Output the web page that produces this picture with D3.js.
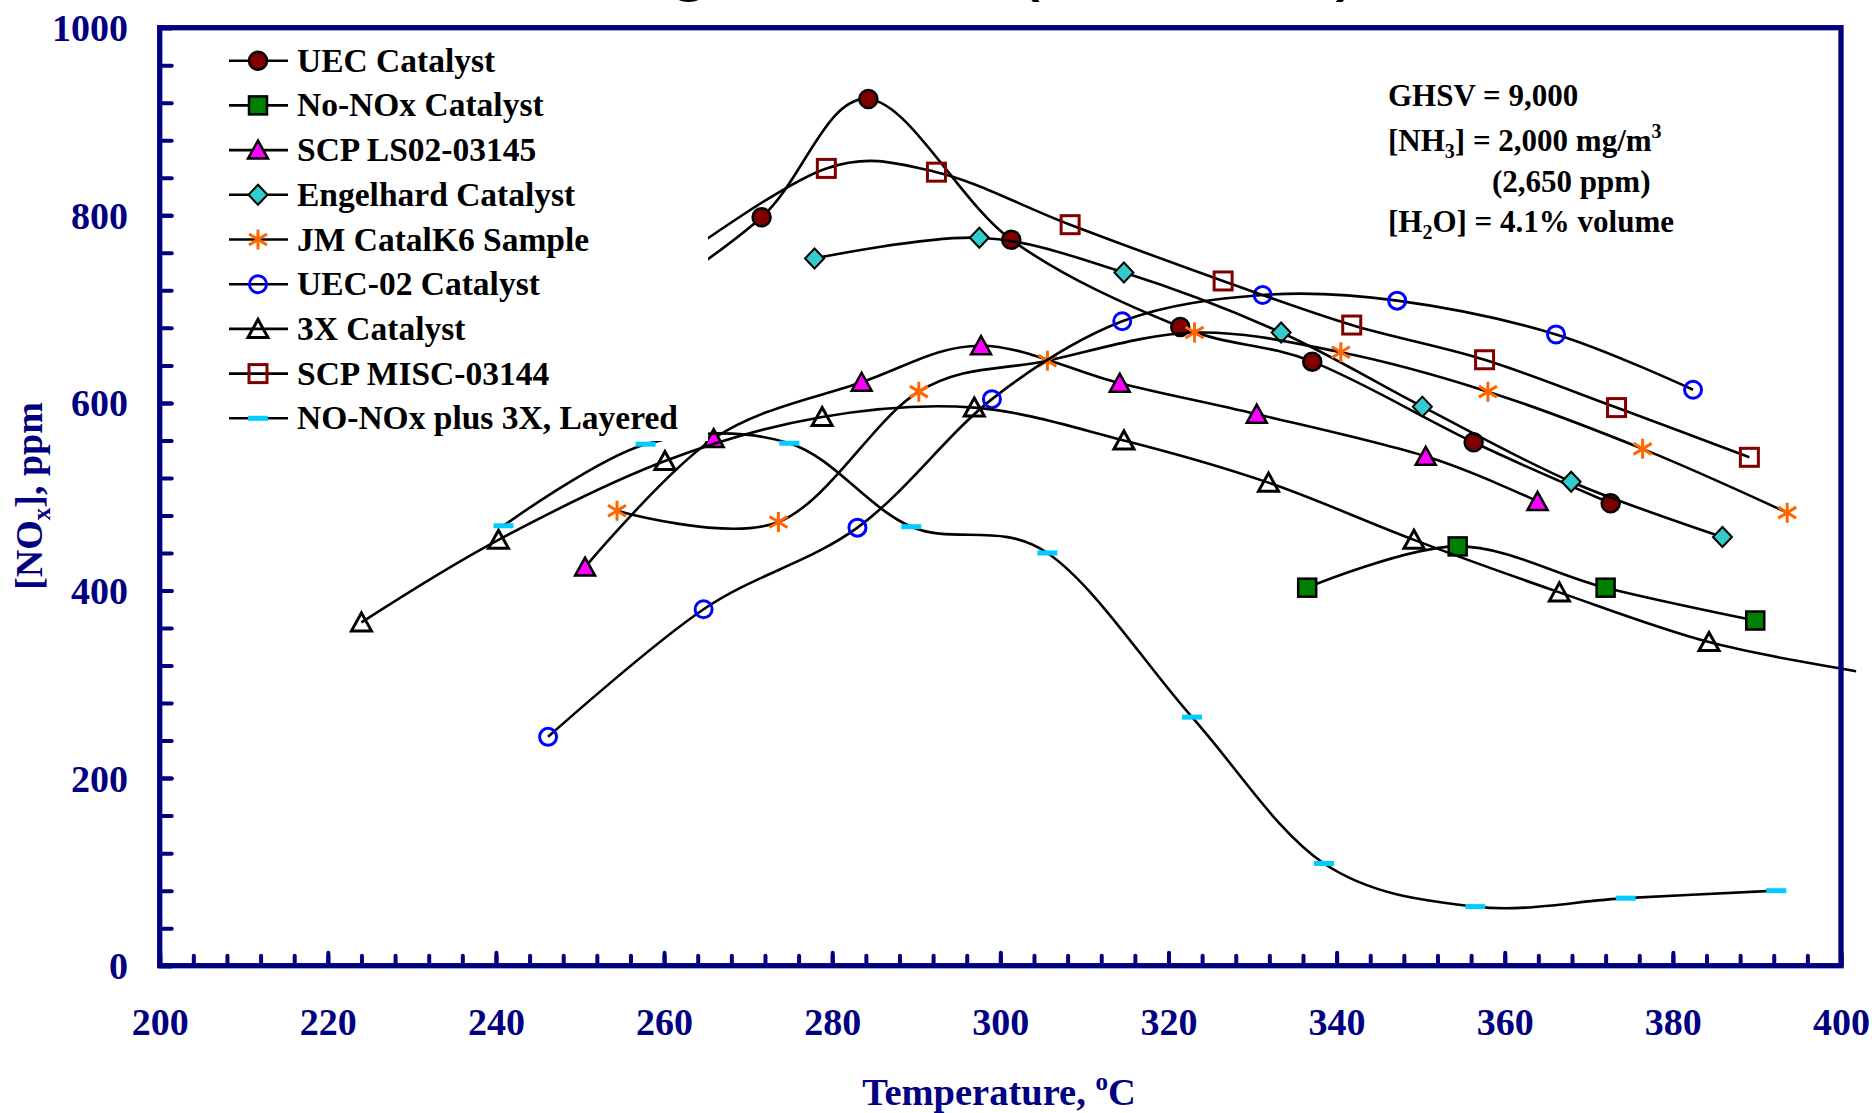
<!DOCTYPE html>
<html>
<head>
<meta charset="utf-8">
<script src="https://cdn.jsdelivr.net/npm/d3@7"></script>
<style>
body { margin: 0; background: #fff; }
svg { display: block; }
.lbl { font-family: "Liberation Serif", "Times New Roman", serif; font-weight: bold; }
</style>
</head>
<body>
<script>
// [temperature degC, NOx ppm]
var uecCatalyst   = [[255,690],[271.6,798],[284.3,924],[301.3,774],[321.4,681],[337.1,644],[356.3,558],[372.6,493]];
var noNoxCatalyst = [[336.5,403],[354.4,447],[372,403],[389.8,368]];
var scpLS02       = [[250.6,425],[265.9,562],[283.5,622],[297.7,661],[314.2,621],[330.5,588],[350.6,543],[363.9,495]];
var engelhard     = [[277.9,754],[297.5,776],[314.7,739],[333.4,675],[350.2,596],[367.9,516],[385.9,457]];
var jmCatalK6     = [[254.4,485],[273.6,473],[290.3,612],[305.6,645],[323.1,675],[340.5,654],[358,612],[376.4,551],[393.6,483]];
var uec02         = [[246.2,244],[264.7,380],[283,467],[299,604],[314.5,687],[331.2,715],[347.2,709],[366.1,673],[382.4,614]];
var threeX        = [[224,366],[240.3,454],[260.1,538],[278.8,585],[296.9,595],[314.7,560],[331.9,515],[349.2,454],[366.5,398],[384.3,345],[401.8,314]];
var scpMISC       = [[262,755],[279.3,850],[292.4,846],[308.3,790],[326.5,730],[341.8,683],[357.6,646],[373.3,595],[389.1,542]];
var noNoxLayered  = [[240.9,469],[257.8,556],[274.9,557],[289.4,468],[305.6,440],[322.8,265],[338.5,109],[356.5,63],[374.4,72],[392.3,80]];

var seriesNames = ["UEC Catalyst","No-NOx Catalyst","SCP LS02-03145","Engelhard Catalyst","JM CatalK6 Sample",
                   "UEC-02 Catalyst","3X Catalyst","SCP MISC-03144","NO-NOx plus 3X, Layered"];
var seriesData = [uecCatalyst, noNoxCatalyst, scpLS02, engelhard, jmCatalK6, uec02, threeX, scpMISC, noNoxLayered];
var seriesMarker = ["circle","square","triangle","diamond","star","ocircle","otriangle","osquare","dash"];

var xTicks = [200,220,240,260,280,300,320,340,360,380,400];
var yTicks = [0,200,400,600,800,1000];

var navy = "#000080";
var margin = {top: 27.7, right: 31, bottom: 147.3, left: 159.7},
    width = 1872 - margin.left - margin.right,
    height = 1113 - margin.top - margin.bottom;

var x = d3.scaleLinear().domain([200, 400]).range([0, width]);
var y = d3.scaleLinear().domain([0, 1000]).range([height, 0]);

var root = d3.select("body").append("svg")
    .attr("width", 1872)
    .attr("height", 1113);

// slide title, almost entirely above the top edge
root.append("text")
    .attr("x", 182)
    .attr("y", -14.5)
    .style("font-family", "'Liberation Sans', Arial, sans-serif")
    .style("font-size", "78px")
    .attr("fill", "#000")
    .text("NOx Screening Results (Round 2)");

var svg = root.append("g")
    .attr("transform", "translate(" + margin.left + "," + margin.top + ")");

function marker(g, type) {
    if (type == "circle") {
        g.append("circle").attr("r", 9).attr("fill", "#800000").attr("stroke", "#000").attr("stroke-width", 2.5);
    } else if (type == "square") {
        g.append("rect").attr("x", -9).attr("y", -9).attr("width", 18).attr("height", 18)
            .attr("fill", "#008000").attr("stroke", "#000").attr("stroke-width", 2.5);
    } else if (type == "triangle") {
        g.append("path").attr("d", "M0,-9.5L10,8.5L-10,8.5Z")
            .attr("fill", "#ff00ff").attr("stroke", "#000").attr("stroke-width", 2.5);
    } else if (type == "diamond") {
        g.append("path").attr("d", "M0,-10L9.5,0L0,10L-9.5,0Z")
            .attr("fill", "#33cccc").attr("stroke", "#000").attr("stroke-width", 2);
    } else if (type == "star") {
        g.append("path").attr("d", "M0,-10V10M-9,-5.5L9,5.5M-9,5.5L9,-5.5")
            .attr("fill", "none").attr("stroke", "#ff6600").attr("stroke-width", 3);
    } else if (type == "ocircle") {
        g.append("circle").attr("r", 8.5).attr("fill", "none").attr("stroke", "#0000ff").attr("stroke-width", 3);
    } else if (type == "otriangle") {
        g.append("path").attr("d", "M0,-9.5L10,8.5L-10,8.5Z")
            .attr("fill", "none").attr("stroke", "#000").attr("stroke-width", 3);
    } else if (type == "osquare") {
        g.append("rect").attr("x", -9).attr("y", -9).attr("width", 18).attr("height", 18)
            .attr("fill", "none").attr("stroke", "#800000").attr("stroke-width", 3);
    } else if (type == "dash") {
        g.append("rect").attr("x", -10).attr("y", -2.5).attr("width", 20).attr("height", 5)
            .attr("fill", "#00ccff");
    }
}

var line = d3.line()
    .x(function(d) { return x(d[0]); })
    .y(function(d) { return y(d[1]); })
    .curve(d3.curveCardinal.tension(0));

seriesData.forEach(function(data, i) {
    var g = svg.append("g").attr("class", "series");
    g.append("path")
        .datum(data)
        .attr("d", line)
        .attr("fill", "none")
        .attr("stroke", "#000")
        .attr("stroke-width", 2.6);
    g.selectAll(".mk")
        .data(data.filter(function(d) { return d[0] <= 400; }))
        .enter().append("g")
        .attr("class", "mk")
        .attr("transform", function(d) { return "translate(" + x(d[0]) + "," + y(d[1]) + ")"; })
        .each(function() { marker(d3.select(this), seriesMarker[i]); });
});

// legend sits on a white box over the plot
var legend = svg.append("g").attr("transform", "translate(" + (-margin.left) + "," + (-margin.top) + ")");
legend.append("rect")
    .attr("x", 215).attr("y", 33)
    .attr("width", 708 - 215).attr("height", 441 - 33)
    .attr("fill", "#fff");

seriesNames.forEach(function(name, i) {
    var cy = 60.7 + i * 44.7;
    legend.append("line")
        .attr("x1", 229).attr("x2", 288).attr("y1", cy).attr("y2", cy)
        .attr("stroke", "#000").attr("stroke-width", 2.6);
    marker(legend.append("g").attr("transform", "translate(258," + cy + ")"), seriesMarker[i]);
    legend.append("text")
        .attr("class", "lbl")
        .attr("x", 297)
        .attr("y", cy + 11)
        .style("font-size", "33.5px")
        .attr("fill", "#000")
        .text(name);
});

// axes
svg.append("g")
    .attr("class", "x minor")
    .attr("transform", "translate(0," + height + ")")
    .call(d3.axisBottom(x).tickValues(d3.range(200, 401, 4)).tickSize(-10).tickFormat(function() { return null; }));

svg.append("g")
    .attr("class", "x axis")
    .attr("transform", "translate(0," + height + ")")
    .call(d3.axisBottom(x).tickValues(xTicks).tickSize(-13).tickPadding(42).tickFormat(d3.format("d")));

svg.append("g")
    .attr("class", "y axis")
    .call(d3.axisLeft(y).tickValues(d3.range(0, 1001, 40)).tickSize(-12).tickFormat(function() { return null; }));

svg.append("g")
    .attr("class", "y axis")
    .call(d3.axisLeft(y).tickValues(yTicks).tickSize(-12).tickPadding(31.7).tickFormat(d3.format("d")));

svg.selectAll(".domain").remove();
svg.selectAll(".tick line")
    .attr("stroke", navy)
    .attr("stroke-width", 4)
    .attr("stroke-linecap", "round");
svg.selectAll(".tick text")
    .attr("class", "lbl")
    .attr("fill", navy)
    .style("font-size", "38px");
svg.selectAll(".y.axis .tick text").attr("dy", "0.34em");

svg.append("rect")
    .attr("width", width)
    .attr("height", height)
    .attr("fill", "none")
    .attr("stroke", navy)
    .attr("stroke-width", 5.3);

// axis titles
var yt = root.append("text")
    .attr("class", "lbl")
    .attr("transform", "translate(42,496) rotate(-90)")
    .attr("text-anchor", "middle")
    .attr("fill", navy)
    .style("font-size", "38px");
yt.append("tspan").text("[NO");
yt.append("tspan").attr("dy", 8).style("font-size", "25px").text("x");
yt.append("tspan").attr("dy", -8).text("], ppm");

var xt = root.append("text")
    .attr("class", "lbl")
    .attr("x", 999)
    .attr("y", 1105)
    .attr("text-anchor", "middle")
    .attr("fill", navy)
    .style("font-size", "38.5px");
xt.append("tspan").text("Temperature, ");
xt.append("tspan").attr("dy", -15).style("font-size", "25px").text("o");
xt.append("tspan").attr("dy", 15).text("C");

// test conditions
var notes = root.append("g").attr("class", "lbl").style("font-size", "31px").attr("fill", "#000");
notes.append("text").attr("x", 1388).attr("y", 106).text("GHSV = 9,000");
var n2 = notes.append("text").attr("x", 1388).attr("y", 151);
n2.append("tspan").text("[NH");
n2.append("tspan").attr("dy", 7).style("font-size", "20px").text("3");
n2.append("tspan").attr("dy", -7).text("] = 2,000 mg/m");
n2.append("tspan").attr("dy", -13).style("font-size", "20px").text("3");
notes.append("text").attr("x", 1492).attr("y", 192).text("(2,650 ppm)");
var n4 = notes.append("text").attr("x", 1388).attr("y", 232);
n4.append("tspan").text("[H");
n4.append("tspan").attr("dy", 7).style("font-size", "20px").text("2");
n4.append("tspan").attr("dy", -7).text("O] = 4.1% volume");
</script>
</body>
</html>
